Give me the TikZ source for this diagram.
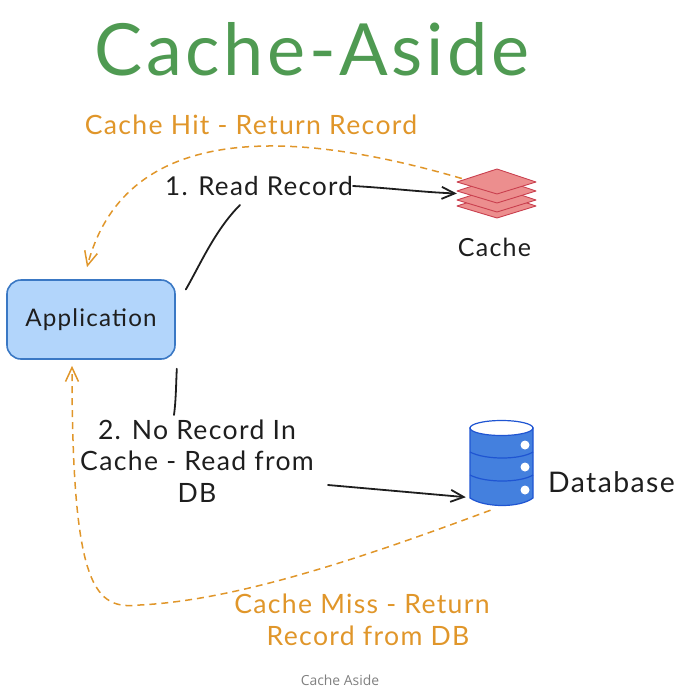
\documentclass[tikz,border=0pt]{standalone}
\usepackage{fontspec}
\setmainfont[LetterSpace=5]{Lato}
\newfontfamily\captionfont{Open Sans}
\usetikzlibrary{arrows.meta,calc}
\definecolor{inkblack}{HTML}{1E1E1E}
\definecolor{titlegreen}{HTML}{4F9A52}
\definecolor{hitorange}{HTML}{E0962A}
\definecolor{appfill}{HTML}{B2D5FB}
\definecolor{appline}{HTML}{3A78C4}
\definecolor{cachefill}{HTML}{EC8E8E}
\definecolor{cacheline}{HTML}{C93F4E}
\definecolor{dbfill}{HTML}{4480DE}
\definecolor{dbline}{HTML}{1F55D2}
\tikzset{
  hand/.style={font=\fontsize{26.6}{31.5}\selectfont, text=inkblack, inner sep=0pt, align=center},
  handorange/.style={hand, text=hitorange},
  flow/.style={draw=inkblack, line width=1.8pt, line cap=round},
  flowarrow/.style={flow, -{Straight Barb[length=13pt,width=12pt]}},
  reply/.style={draw=hitorange, line width=1.5pt, dash pattern=on 7pt off 5pt, -{Straight Barb[length=14pt,width=13pt]}},
  iconbox/.style={inner sep=0pt, minimum width=#1},
  sheet/.style={draw=cacheline, fill=cachefill, line width=0.9pt, line join=round},
  drum/.style={draw=dbline, fill=dbfill, line width=1.2pt}
}
\begin{document}
\begin{tikzpicture}[x=1pt,y=-1pt]
  \useasboundingbox (0,0) rectangle (680,689);
  \node[font=\fontsize{72}{72}\selectfont, text=titlegreen, inner sep=0pt] (Title) at (312,49) {Cache-Aside};
  \node[hand, font=\fontsize{24.2}{31.5}\selectfont, draw=appline, fill=appfill, line width=1.6pt, rounded corners=14pt, minimum width=168pt, minimum height=79pt] (App) at (91,319.5) {Application};
  \node[iconbox=80pt, minimum height=50pt] (CacheIcon) at (497,193.5) {};
  \node[iconbox=63pt, minimum height=85pt] (DbIcon) at (501.5,462.5) {};
  \node[hand, font=\fontsize{25}{31.5}\selectfont] (CacheLabel) at (494.5,247) {Cache};
  \node[hand, font=\fontsize{28.4}{31.5}\selectfont] (DbLabel) at (611.5,482) {Database};
  \node[hand, font=\fontsize{26}{31.5}\selectfont] (ReadLabel) at (259,186) {1. Read Record};
  \node[hand] (MissLabel) at (197,461) {2. No Record In\\Cache - Read from\\DB};
  \node[handorange] (HitText) at (251,125) {Cache Hit - Return Record};
  \node[handorange] (ReturnText) at (362,620) {Cache Miss - Return\\\hspace{12pt}Record from DB};
  \node[font=\captionfont\fontsize{13.9}{13.9}\selectfont, text=gray, inner sep=0pt] (CaptionText) at (340,680) {Cache Aside};
  \coordinate (ReadFoot) at (240,205);
  \coordinate (MissTop) at (174,415);
  \coordinate (MissOut) at (328,485);
  % cache stack
  \foreach \dy in {24,18,9,0} {
    \draw[sheet] ($(CacheIcon.center)+(-40,{\dy-11.5})$) -- ($(CacheIcon.center)+(0,{\dy-24.5})$) -- ($(CacheIcon.center)+(39,{\dy-11.5})$) -- ($(CacheIcon.center)+(0,{\dy+0.5})$) -- cycle;
  }
  % database drum
  \draw[drum] (470,428) -- (470,498) .. controls (485,508) and (520,508) .. (533,498) -- (533,428) -- cycle;
  \draw[dbline, line width=1.2pt] (470,452) .. controls (485,460) and (520,460) .. (533,452);
  \draw[dbline, line width=1.2pt] (470,475) .. controls (485,483) and (520,483) .. (533,475);
  \draw[dbline, fill=white, line width=1.2pt] (501.5,428) ellipse (31.5pt and 7.5pt);
  \foreach \cy in {445,467,490} {
    \fill[white] (525,\cy) circle (4.5pt);
  }
  % connectors
  \draw[flow] ([xshift=10pt,yshift=30pt]App.east) .. controls (200,265) and (215,230) .. (ReadFoot);
  \draw[flowarrow] (ReadLabel.east) .. controls (390,188) and (420,192) .. (CacheIcon.west);
  \draw[flow] ([xshift=1pt,yshift=-9pt]App.south east) .. controls (176,385) and (176,400) .. (MissTop);
  \draw[flowarrow] (MissOut) -- ([xshift=-4pt,yshift=8pt]DbIcon.south west);
  \draw[reply] ([xshift=5pt,yshift=15pt]CacheIcon.west) .. controls (330,140) and (130,105) .. ([xshift=-4pt,yshift=12pt]App.north);
  \draw[reply] ([xshift=-11pt,yshift=-5pt]DbIcon.south) .. controls (370,555) and (240,600) .. (140,605) .. controls (95,610) and (72,590) .. ([xshift=-19pt,yshift=-6pt]App.south);
\end{tikzpicture}
\end{document}
